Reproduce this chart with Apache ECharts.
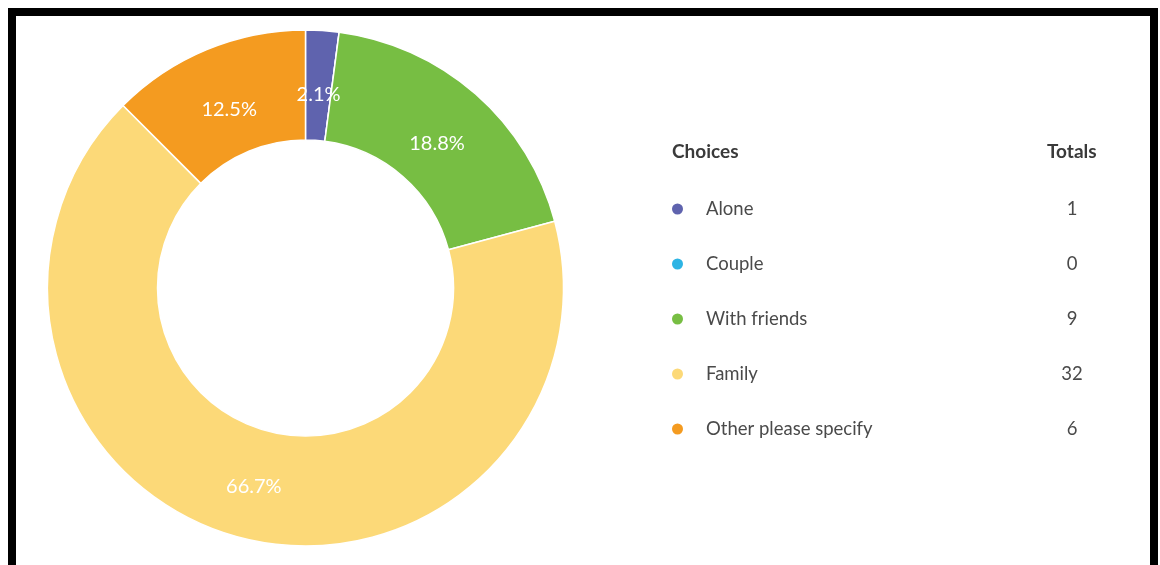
<!DOCTYPE html>
<html>
<head>
<meta charset="utf-8">
<script src="https://cdn.jsdelivr.net/npm/echarts@6/dist/echarts.min.js"></script>
<style>
  html, body { margin: 0; padding: 0; background: #fff; }
  #frame { position: absolute; left: 8px; top: 8px; width: 1150px; height: 572px;
           box-sizing: border-box; border: 8px solid #000; }
  #chart { position: absolute; left: 0; top: 0; width: 1160px; height: 565px; }
</style>
</head>
<body>
<div id="frame"></div>
<div id="chart"></div>
<script>
// Survey answers
const choices = ['Alone', 'Couple', 'With friends', 'Family', 'Other please specify'];
const totals = [1, 0, 9, 32, 6];
const colors = ['#5f63ae', '#2db4e4', '#77be43', '#fcd978', '#f49b20'];

const headerChoices = 'Choices';
const headerTotals = 'Totals';

const sum = totals.reduce((a, b) => a + b, 0);
const totalByName = {};
choices.forEach((c, i) => { totalByName[c] = totals[i]; });

// Percentage labels sit slightly inward of the ring's middle and a touch low
let acc = 0;
const pieData = choices.map((c, i) => {
  const mid = (acc + totals[i] / 2) / sum * 2 * Math.PI;
  acc += totals[i];
  const inward = 6.5, drop = 5.5;
  return {
    name: c,
    value: totals[i],
    label: { offset: [-inward * Math.sin(mid), drop + inward * Math.cos(mid)] }
  };
});

const chart = echarts.init(document.getElementById('chart'), null, { renderer: 'canvas' });

chart.setOption({
  animation: false,
  color: colors,
  textStyle: { fontFamily: 'Lato' },
  graphic: [
    { type: 'text', left: 672, top: 142,
      style: { text: headerChoices, fontFamily: 'Lato', fontWeight: 'bold', fontSize: 19, fill: '#3a3a3a' } },
    { type: 'text', left: 1047, top: 142,
      style: { text: headerTotals, fontFamily: 'Lato', fontWeight: 'bold', fontSize: 19, fill: '#3a3a3a' } }
  ],
  legend: {
    orient: 'vertical',
    left: 670,
    top: 199,
    padding: 0,
    icon: 'circle',
    itemWidth: 13,
    itemHeight: 13,
    itemGap: 35,
    selectedMode: false,
    data: choices,
    formatter: name => '{n|' + name + '}{v|' + totalByName[name] + '}',
    textStyle: {
      fontFamily: 'Lato',
      fontSize: 18.5,
      lineHeight: 20,
      color: '#4a4a4a',
      rich: {
        n: { width: 351, fontFamily: 'Lato', fontSize: 18.5, color: '#4a4a4a', padding: [0, 0, 0, 17], lineHeight: 20 },
        v: { width: 30, align: 'center', fontFamily: 'Lato', fontSize: 18.5, color: '#4a4a4a', lineHeight: 20 }
      }
    }
  },
  series: [{
    type: 'pie',
    center: [305.5, 288],
    radius: [148, 258],
    startAngle: 90,
    clockwise: true,
    avoidLabelOverlap: false,
    itemStyle: { borderColor: '#fff', borderWidth: 1.5 },
    label: {
      show: true,
      position: 'inside',
      color: '#fff',
      fontFamily: 'Lato',
      fontSize: 20,
      formatter: p => p.value > 0 ? (p.value / sum * 100).toFixed(1) + '%' : ''
    },
    labelLine: { show: false },
    emphasis: { disabled: true },
    data: pieData
  }]
});
</script>
</body>
</html>
